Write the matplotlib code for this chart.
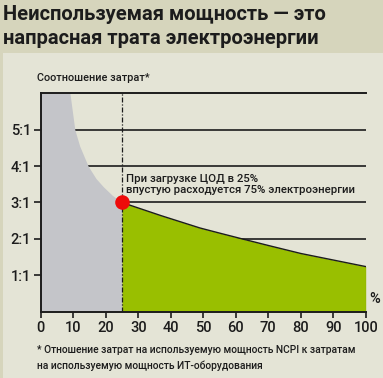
import matplotlib
matplotlib.use("Agg")
import matplotlib.pyplot as plt
from matplotlib.patches import Rectangle

# ---- data ----
title_lines = ["Неиспользуемая мощность — это", "напрасная трата электроэнергии"]
y_title = "Соотношение затрат*"
footnote = ["* Отношение затрат на используемую мощность NCPI к затратам",
            "на используемую мощность ИТ-оборудования"]
annotation = ["При загрузке ЦОД в 25%", "впустую расходуется 75% электроэнергии"]

load = [9, 10.5, 12, 14.6, 17, 19.3, 22, 25, 30, 37, 43, 49, 55, 62, 70, 80, 90, 100]
ratio = [6.0, 5.0, 4.55, 4.0, 3.66, 3.43, 3.2, 3.0, 2.85, 2.64, 2.47, 2.30, 2.16, 2.0, 1.82, 1.6, 1.42, 1.24]
highlight_load = 25
highlight_ratio = 3

x_ticks = [0, 10, 20, 30, 40, 50, 60, 70, 80, 90, 100]
x_ticklabels = ["0", "10", "20", "30", "40", "50", "60", "70", "80", "90", "100"]
y_ticks = [1, 2, 3, 4, 5]
y_ticklabels = ["1:1", "2:1", "3:1", "4:1", "5:1"]
y_max = 6
x_max = 100

FAM = ["Roboto", "DejaVu Sans"]
plt.rcParams["font.family"] = FAM

OUTER = "#d6d5bc"
PANEL = "#e4e4d6"
GREY = "#c4c5c9"
GREEN = "#99bf00"
RED = "#ee0a0a"
INK = "#1c1c1c"
BODY_W = "medium"

W, H = 383, 378
fig = plt.figure(figsize=(W / 100, H / 100), dpi=100)
fig.patch.set_facecolor(OUTER)
fig.patches.append(Rectangle((3 / W, 0), 1, 1 - 53 / H, transform=fig.transFigure,
                             facecolor=PANEL, edgecolor="none", zorder=-10))
renderer = fig.canvas.get_renderer()


def fit(t, target_px):
    w = t.get_window_extent(renderer).width
    t.set_fontsize(t.get_fontsize() * target_px / w)
    return t.get_fontsize()


t1 = fig.text(3 / W, 1 - 14 / H, title_lines[0], fontsize=16, fontweight="bold", color=INK,
              va="center", ha="left")
fs_title = fit(t1, 325)
fig.text(3 / W, 1 - 39 / H, title_lines[1], fontsize=fs_title, fontweight="bold", color=INK,
         va="center", ha="left")

ax = fig.add_axes([40.7 / W, 1 - 311.7 / H, 325 / W, 218.4 / H])
ax.set_facecolor("none")
ax.set_xlim(0, x_max)
ax.set_ylim(0, y_max)

for yv in y_ticks:
    ax.plot([0, x_max], [yv, yv], color=INK, lw=1.2, zorder=1, solid_capstyle="butt")

k = load.index(highlight_load)
gx = [0] + load[:k + 1]
gy = [y_max] + ratio[:k + 1]
ax.fill_between(gx, 0, gy, color=GREY, lw=0, zorder=2)
ax.fill_between(load[k:], 0, ratio[k:], color=GREEN, lw=0, zorder=2)
ax.plot(load[k:], ratio[k:], color=INK, lw=1.0, zorder=3)
ax.plot([load[-1], load[-1]], [0, ratio[-1]], color="#555555", lw=0.8, zorder=3)

ax.plot([highlight_load, highlight_load], [0, y_max], color=INK, lw=0.9,
        linestyle=(0, (4, 1.5, 1, 1.5)), zorder=4)
ax.plot([highlight_load], [highlight_ratio], "o", color=RED, markersize=10.5,
        markeredgewidth=0, zorder=5)

ta = ax.text(26.3, 3.49, annotation[1], fontsize=10, color=INK, fontweight=BODY_W)
fs_body = fit(ta, 228)
ta.remove()
ax.text(26.3, 3.49, "\n".join(annotation), fontsize=fs_body, color=INK, ha="left",
        va="center", linespacing=1.2, zorder=6, fontweight=BODY_W)

ax.spines["right"].set_visible(False)
for s in ["left", "bottom", "top"]:
    ax.spines[s].set_color(INK)
    ax.spines[s].set_linewidth(1.4)

ax.set_xticks(x_ticks)
ax.set_xticklabels(x_ticklabels, fontweight=BODY_W)
ax.set_yticks(y_ticks)
ax.set_yticklabels(y_ticklabels, fontweight=BODY_W)
tick_fs = 10.5
ax.tick_params(axis="x", direction="out", length=4, width=1.2, color=INK, labelsize=tick_fs,
               labelcolor=INK, pad=3)
ax.tick_params(axis="y", direction="out", length=5, width=1.2, color=INK, labelsize=tick_fs,
               labelcolor=INK, pad=2)

ax.text(1.012, 0.06, "%", transform=ax.transAxes, fontsize=tick_fs, color=INK,
        ha="left", va="center", fontweight=BODY_W)
ty = fig.text(37 / W, 1 - 78 / H, y_title, fontsize=10, color=INK, ha="left", va="center",
              fontweight=BODY_W)
fit(ty, 112)
tf = fig.text(37 / W, 1 - 350 / H, footnote[0], fontsize=10, color=INK, ha="left",
              va="center", fontweight=BODY_W)
fs_foot = fit(tf, 318)
fig.text(37 / W, 1 - 366 / H, footnote[1], fontsize=fs_foot, color=INK, ha="left",
         va="center", fontweight=BODY_W)

fig.savefig("out.png", dpi=100, facecolor=OUTER)
